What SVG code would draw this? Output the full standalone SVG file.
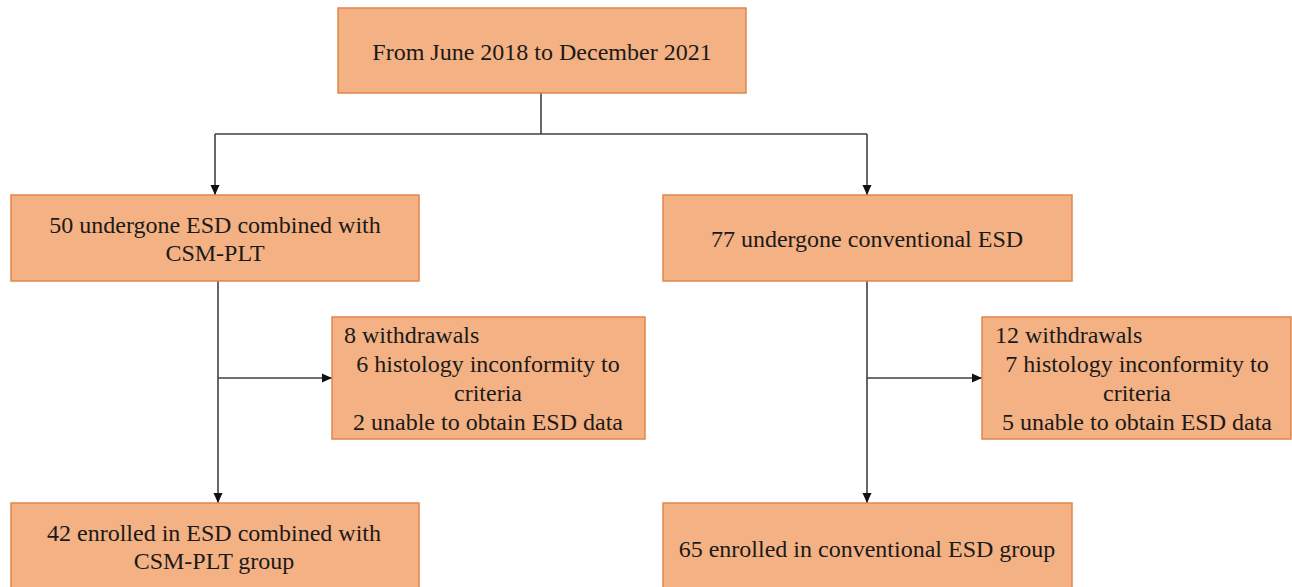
<svg xmlns="http://www.w3.org/2000/svg" width="1292" height="587" viewBox="0 0 1292 587">
<style>
.box{fill:#F4B183;stroke:#E0864C;stroke-width:1.5}
.t{font-family:'Liberation Serif','DejaVu Serif',serif;font-size:24px;fill:#1a1a1a}
.c{text-anchor:middle}
.ln{fill:none;stroke:#404040;stroke-width:1.6}
</style>
<defs>
<marker id="arr" viewBox="0 0 10 10" refX="10" refY="5" markerWidth="10" markerHeight="10" markerUnits="userSpaceOnUse" orient="auto">
<path d="M0,0.5 L10,5 L0,9.5 Z" fill="#111"/>
</marker>
</defs>
<rect width="1292" height="587" fill="#fff"/>
<g id="connectors">
<path class="ln" d="M541,93 V134"/>
<path class="ln" d="M215,134 H867"/>
<path class="ln" d="M215,134 V195" marker-end="url(#arr)"/>
<path class="ln" d="M867,134 V195" marker-end="url(#arr)"/>
<path class="ln" d="M218,281 V503" marker-end="url(#arr)"/>
<path class="ln" d="M218,378 H332" marker-end="url(#arr)"/>
<path class="ln" d="M867,281 V503" marker-end="url(#arr)"/>
<path class="ln" d="M867,378 H982" marker-end="url(#arr)"/>
</g>
<g id="n-start">
<rect class="box" x="338" y="8" width="408" height="85"/>
<text class="t c" x="542" y="60" font-family="Liberation Serif, serif">From June 2018 to December 2021</text>
</g>
<g id="n-csm">
<rect class="box" x="11" y="195" width="408" height="86"/>
<text class="t c" x="215" y="233">50 undergone ESD combined with</text>
<text class="t c" x="215" y="261">CSM-PLT</text>
</g>
<g id="n-conv">
<rect class="box" x="663" y="195" width="409" height="86"/>
<text class="t c" x="867" y="247">77 undergone conventional ESD</text>
</g>
<g id="n-wd-left">
<rect class="box" x="332" y="317" width="313" height="122"/>
<text class="t" x="344" y="343">8 withdrawals</text>
<text class="t c" x="488" y="372">6 histology inconformity to</text>
<text class="t c" x="488" y="401">criteria</text>
<text class="t c" x="488" y="430">2 unable to obtain ESD data</text>
</g>
<g id="n-wd-right">
<rect class="box" x="982" y="317" width="309" height="122"/>
<text class="t" x="995" y="343">12 withdrawals</text>
<text class="t c" x="1137" y="372">7 histology inconformity to</text>
<text class="t c" x="1137" y="401">criteria</text>
<text class="t c" x="1137" y="430">5 unable to obtain ESD data</text>
</g>
<g id="n-enr-left">
<rect class="box" x="11" y="503" width="408" height="100"/>
<text class="t c" x="214" y="541">42 enrolled in ESD combined with</text>
<text class="t c" x="214" y="569">CSM-PLT group</text>
</g>
<g id="n-enr-right">
<rect class="box" x="663" y="503" width="409" height="100"/>
<text class="t c" x="867" y="557">65 enrolled in conventional ESD group</text>
</g>
</svg>
